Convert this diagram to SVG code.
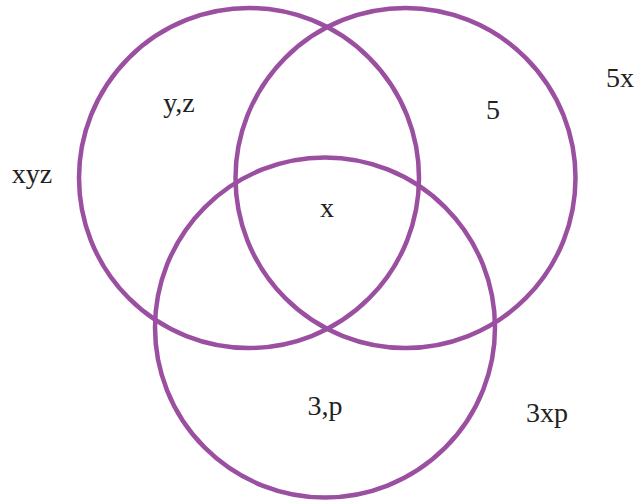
<svg xmlns="http://www.w3.org/2000/svg" width="643" height="502" viewBox="0 0 643 502">
<style>
.c{fill:none;stroke:#9b4fa1;stroke-width:4.5}
.t{font-family:"Liberation Serif",serif;font-size:28px;fill:#222;text-anchor:middle}
</style>
<rect width="643" height="502" fill="#fff"/>
<g id="circleA"><circle class="c" cx="249" cy="178" r="170"/></g>
<g id="circleB"><circle class="c" cx="405.5" cy="178" r="170"/></g>
<g id="circleC"><circle class="c" cx="325" cy="327.5" r="170"/></g>
<g id="labels">
<text class="t" x="32" y="183">xyz</text>
<text class="t" x="179" y="112">y,z</text>
<text class="t" x="620" y="87">5x</text>
<text class="t" x="493" y="119">5</text>
<text class="t" x="327" y="217">x</text>
<text class="t" x="325" y="415">3,p</text>
<text class="t" x="547" y="422">3xp</text>
</g>
</svg>
